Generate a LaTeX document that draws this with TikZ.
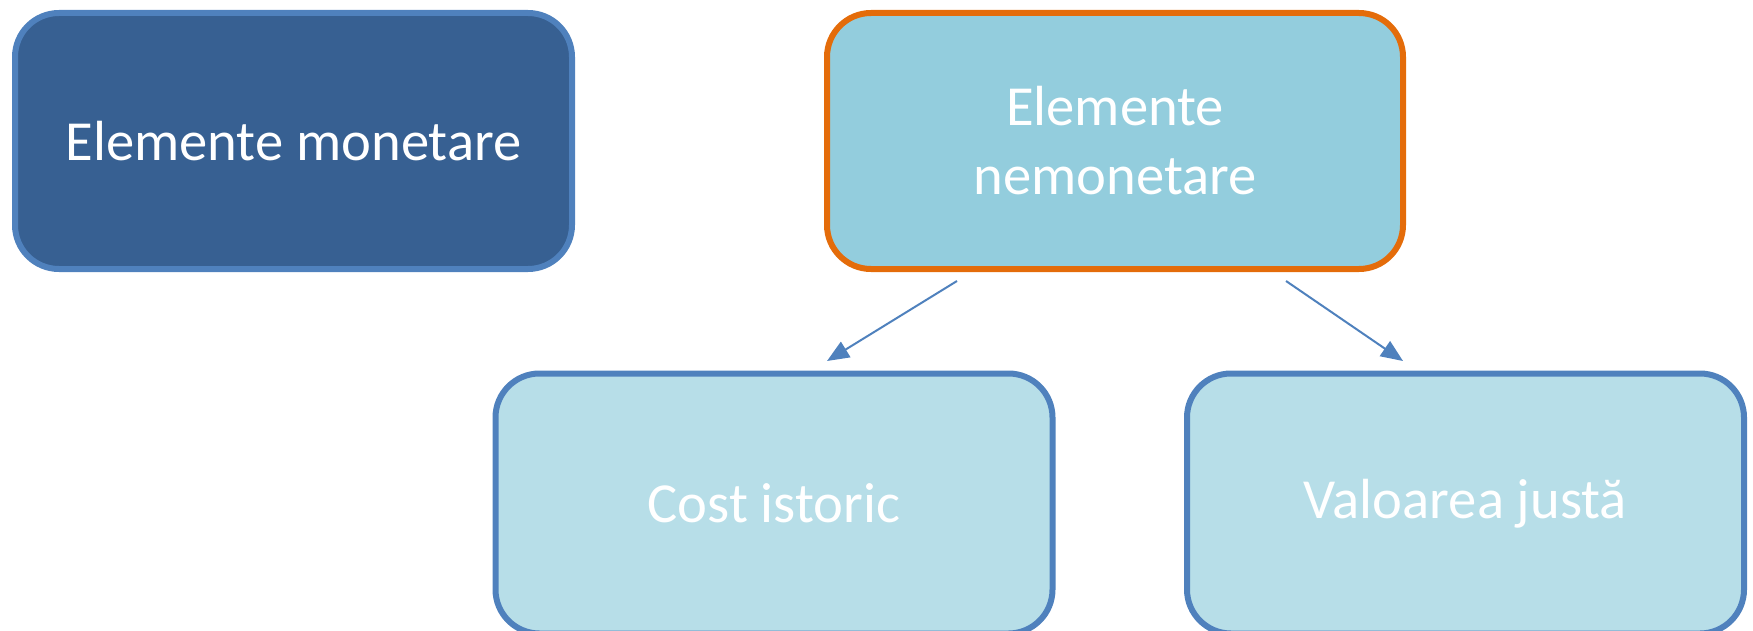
\documentclass[tikz,border=0pt]{standalone}
\usepackage{fontspec}
\setmainfont{Carlito}
\usetikzlibrary{arrows.meta}
\definecolor{darkfill}{HTML}{376092}
\definecolor{midfill}{HTML}{93CDDD}
\definecolor{lightfill}{HTML}{B7DEE8}
\definecolor{blueline}{HTML}{4F81BD}
\definecolor{orangeline}{HTML}{E46C0A}
\tikzset{
  boxstyle/.style={rectangle, rounded corners=44pt, line width=6pt, draw=blueline,
    minimum width=557pt, minimum height=256pt, inner sep=0pt, text=white,
    align=center, font=\fontsize{56.6pt}{69pt}\selectfont},
  connector/.style={draw=blueline, line width=2pt, -{Triangle[length=22pt,width=18pt]}}
}
\begin{document}
\begin{tikzpicture}[x=1pt,y=-1pt]
\useasboundingbox (0,0) rectangle (1753,631);
\node[boxstyle, fill=darkfill] (mon) at (293.5,141) {Elemente monetare};
\node[boxstyle, fill=midfill, draw=orangeline, minimum width=576pt] (nemon) at (1115,141) {Elemente\\nemonetare};
\node[boxstyle, fill=lightfill, minimum height=260pt] (cost) at (774,503.5) {Cost istoric};
\node[boxstyle, fill=lightfill, minimum height=260pt] (just) at (1465.5,503.5) {Valoarea justă};
\coordinate (s1) at (957,281);
\coordinate (e1) at (827,361);
\coordinate (s2) at (1286,281);
\coordinate (e2) at (1403,361);
\draw[connector] (s1) -- (e1);
\draw[connector] (s2) -- (e2);
\end{tikzpicture}
\end{document}
